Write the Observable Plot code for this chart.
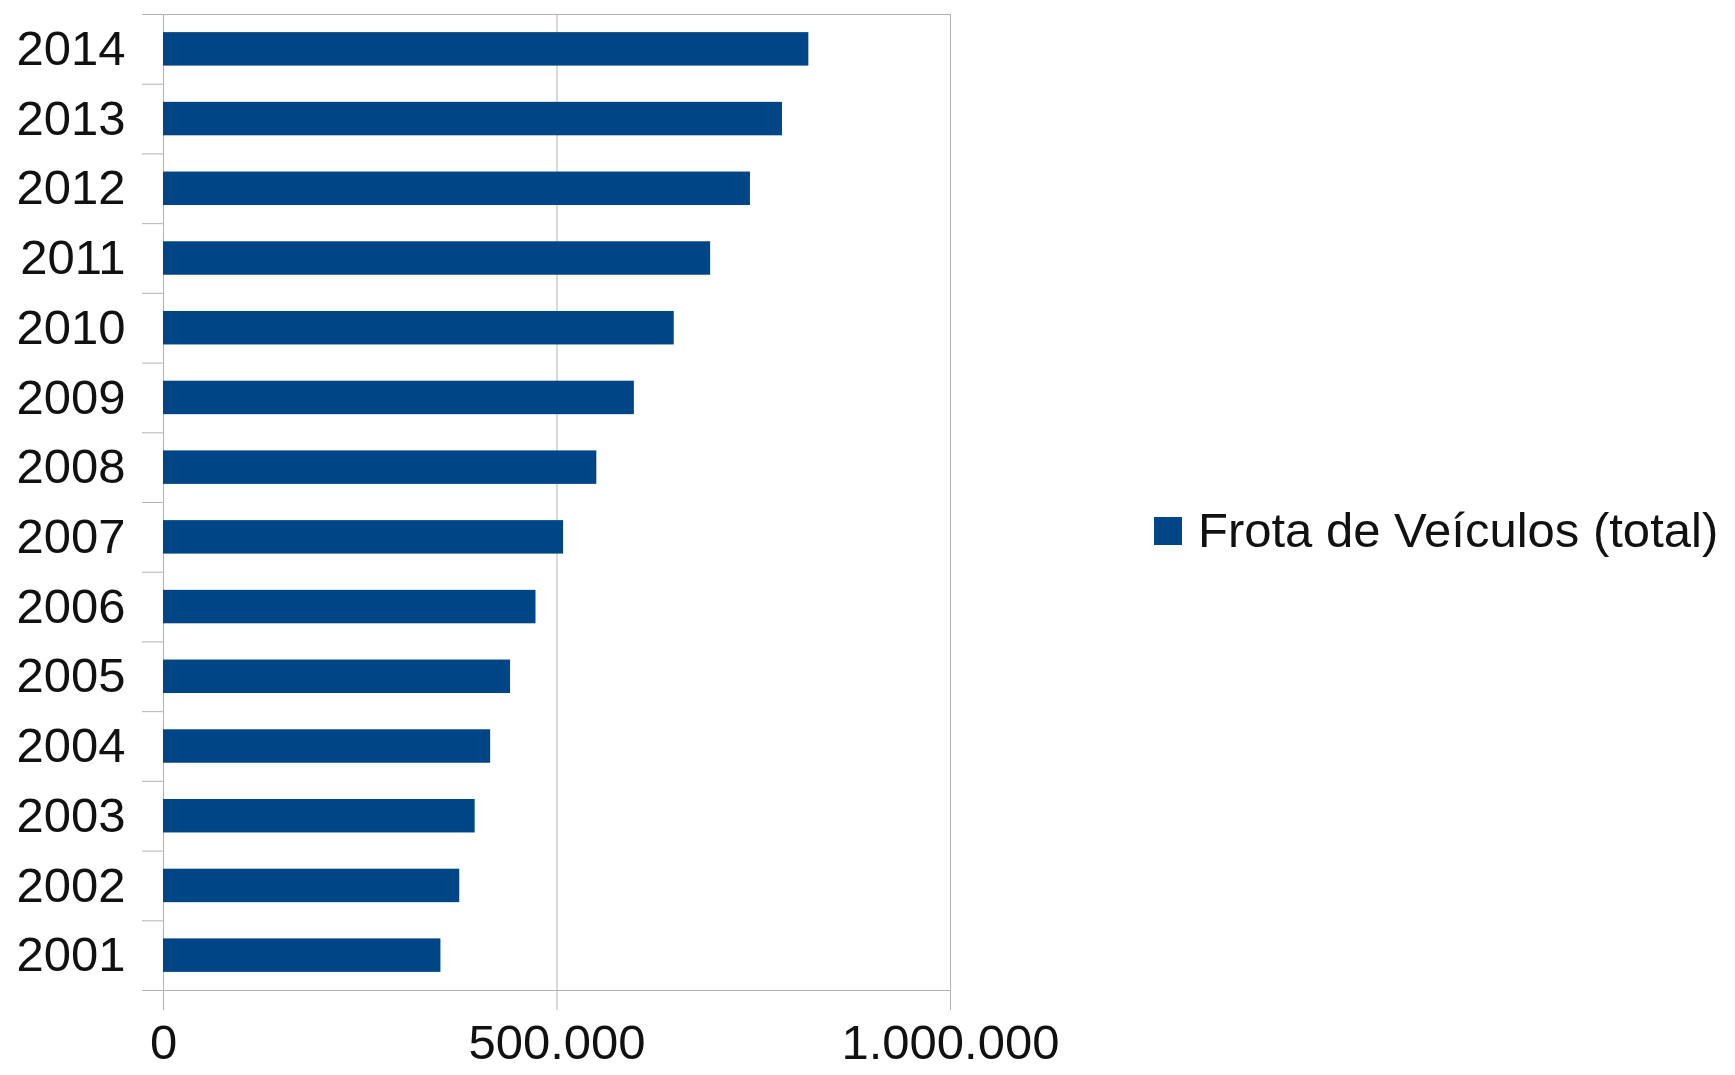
<!DOCTYPE html>
<html>
<head>
<meta charset="utf-8">
<script src="https://cdn.jsdelivr.net/npm/d3@7"></script>
<script src="https://cdn.jsdelivr.net/npm/@observablehq/plot@0.6"></script>
<style>
  html, body { margin: 0; padding: 0; background: #fff; }
  #wrap { position: relative; width: 1735px; height: 1075px; overflow: hidden; }
  #legend { position: absolute; left: 1154px; top: 506px; display: flex; align-items: center; gap: 16px;
            font-family: "Liberation Sans", Arial, sans-serif; font-size: 49px; line-height: 49px; color: #111; white-space: nowrap; }
  #legend .sw { width: 28px; height: 28px; background: #004586; }
</style>
</head>
<body>
<div id="wrap"><div id="legend"><div class="sw"></div><div>Frota de Veículos (total)</div></div></div>
<script>
const years = ["2001","2002","2003","2004","2005","2006","2007","2008","2009","2010","2011","2012","2013","2014"];
const values = [352500, 376400, 396000, 415700, 441000, 473300, 508400, 550600, 598300, 649000, 695200, 745800, 786500, 820000];
const xTicks = [0, 500000, 1000000];
const xTickLabels = ["0", "500.000", "1.000.000"];
const seriesName = "Frota de Veículos (total)";

const data = years.map((y, i) => ({year: y, value: values[i], series: seriesName}));

const W = 1735, H = 1075, mL = 163, mR = 785, mT = 14, mB = 85;
const step = (H - mT - mB) / years.length;
const grid = "#b3b3b3";

const chart = Plot.plot({
  width: W, height: H,
  marginLeft: mL, marginRight: mR, marginTop: mT, marginBottom: mB,
  style: {fontFamily: "'Liberation Sans', Arial, sans-serif", fontSize: "49px", color: "#111", background: "transparent"},
  x: {domain: [0, 1000000]},
  y: {domain: years.slice().reverse(), paddingInner: 0.52, paddingOuter: 0.26, round: false},
  marks: [
    Plot.gridX(xTicks, {stroke: grid, strokeOpacity: 1}),
    Plot.frame({stroke: grid}),
    Plot.barX(data, {x: "value", y: "year", fill: "#004586"}),
    Plot.axisX(xTicks, {tickSize: 20, tickPadding: 14, stroke: grid, fill: "#111", fontSize: 49,
      tickFormat: d => xTickLabels[xTicks.indexOf(d)], label: null}),
    Plot.axisY(years, {tickSize: 0, tickPadding: 38, fontSize: 49, fill: "#111", label: null}),
    Plot.axisY(years, {tickSize: 21, tickPadding: 0, stroke: grid, tickFormat: () => "", dy: -step / 2, label: null}),
    Plot.axisY(["2001"], {tickSize: 21, tickPadding: 0, stroke: grid, tickFormat: () => "", dy: step / 2, label: null})
  ]
});
chart.style.position = "absolute";
chart.style.left = "0";
chart.style.top = "0";
document.getElementById("wrap").prepend(chart);
</script>
</body>
</html>
